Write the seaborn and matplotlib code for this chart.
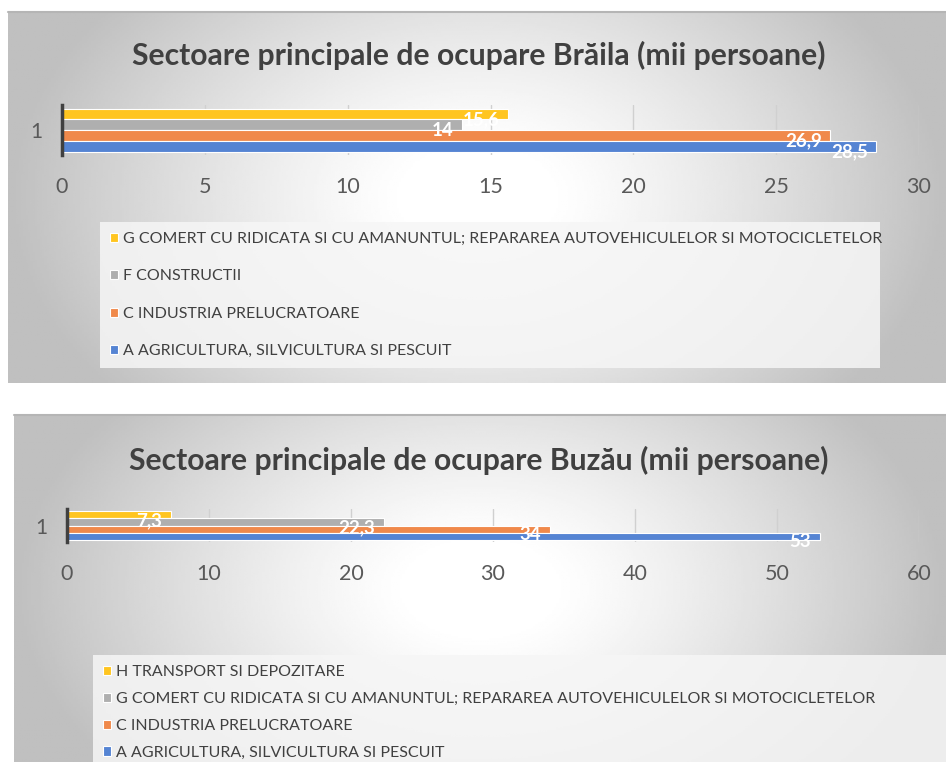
import numpy as np
import pandas as pd
import matplotlib
matplotlib.use("Agg")
import matplotlib.pyplot as plt
import seaborn as sns

# data
braila_sectors = [
    "G COMERT CU RIDICATA SI CU AMANUNTUL; REPARAREA AUTOVEHICULELOR SI MOTOCICLETELOR",
    "F CONSTRUCTII",
    "C INDUSTRIA PRELUCRATOARE",
    "A AGRICULTURA, SILVICULTURA SI PESCUIT",
]
braila_values = [15.6, 14, 26.9, 28.5]

buzau_sectors = [
    "H TRANSPORT SI DEPOZITARE",
    "G COMERT CU RIDICATA SI CU AMANUNTUL; REPARAREA AUTOVEHICULELOR SI MOTOCICLETELOR",
    "C INDUSTRIA PRELUCRATOARE",
    "A AGRICULTURA, SILVICULTURA SI PESCUIT",
]
buzau_values = [7.3, 22.3, 34, 53]

row_label = ["1"]
bar_colors = ["#FFC520", "#AFAFAF", "#F0894B", "#5584D3"]

sns.set_theme(style="white")
plt.rcParams["font.family"] = ["Lato", "DejaVu Sans"]
txt = "#404040"

W, H = 946, 762
fig = plt.figure(figsize=(W / 100, H / 100), dpi=100)

# background panels with grey-to-white gradient
bg = fig.add_axes([0, 0, 1, 1], zorder=-10)
bg.set_xlim(0, W)
bg.set_ylim(H, 0)
bg.axis("off")


def panel(x0, y0, x1, y1):
    X, Y = np.meshgrid(np.linspace(-1, 1, 400), np.linspace(-1, 1, 200))
    r = np.sqrt(X ** 2 + 0.35 * Y ** 2)
    lum = 1 - 0.25 * np.clip((r - 0.15) / 0.85, 0, 1) ** 1.2
    bg.imshow(lum, cmap="gray", vmin=0, vmax=1, extent=(x0, x1, y1, y0), aspect="auto")
    bg.plot([x0, x1], [y0, y0], color="#b5b5b5", lw=1.5)


panel(8, 12, W, 383)
panel(14, 415, W, H)


def draw(rect, sectors, values, xmax, step, title, title_y, leg_box, spacing, bpad):
    df = pd.DataFrame({"row": row_label * len(values), "sector": sectors, "value": values})
    ax = fig.add_axes(rect)
    ax.patch.set_alpha(0)
    sns.barplot(data=df, x="value", y="row", hue="sector", hue_order=sectors,
                palette=bar_colors, saturation=1, orient="h", width=0.86, ax=ax,
                edgecolor="white", linewidth=0.8)
    ax.set_xlim(0, xmax)
    ax.set_ylim(0.5, -0.5)
    ax.set_xticks(np.arange(0, xmax + 1, step))
    ax.set_xlabel("")
    ax.set_ylabel("")
    for s in ["top", "right", "bottom"]:
        ax.spines[s].set_visible(False)
    ax.spines["left"].set_color("#404040")
    ax.spines["left"].set_linewidth(2.5)
    ax.xaxis.grid(True, color="#d0d0d0", lw=1)
    ax.set_axisbelow(True)
    ax.tick_params(axis="x", length=0, pad=15.5, labelsize=15.5, labelcolor="#595959")
    ax.tick_params(axis="y", length=0, pad=14, labelsize=15, labelcolor="#595959")

    for cont, v in zip(ax.containers, values):
        for p in cont:
            ax.annotate(f"{v:g}".replace(".", ","),
                        (p.get_x() + p.get_width(), p.get_y() + p.get_height() / 2),
                        xytext=(-6, -4), textcoords="offset points",
                        ha="right", va="center", color="white", fontsize=13.5,
                        fontweight="bold")

    fig.text(0.506, 1 - title_y / H, title, ha="center", va="center",
             fontsize=21.7, fontweight="bold", color=txt)

    handles, labels = ax.get_legend_handles_labels()
    lx0, ly0, lx1, ly1 = leg_box
    leg = ax.legend(handles, labels, loc="upper left",
                    bbox_to_anchor=(lx0 / W, 1 - ly1 / H, (lx1 - lx0) / W, (ly1 - ly0) / H),
                    bbox_transform=fig.transFigure, mode="expand",
                    frameon=True, fancybox=False, facecolor="#f6f6f6",
                    edgecolor="none", framealpha=0.85, fontsize=11.5,
                    handlelength=0.5, handleheight=0.5, handletextpad=0.3,
                    labelspacing=spacing, borderpad=bpad, borderaxespad=0)
    for t in leg.get_texts():
        t.set_color(txt)
    return ax


draw([62 / W, 1 - 155 / H, (919 - 62) / W, 50 / H], braila_sectors, braila_values,
     30, 5, "Sectoare principale de ocupare Brăila (mii persoane)", 55,
     (100, 222, 880, 368), 1.47, 0.62)

draw([67 / W, 1 - 542 / H, (919 - 67) / W, 33 / H], buzau_sectors, buzau_values,
     60, 10, "Sectoare principale de ocupare Buzău (mii persoane)", 460,
     (93, 655, 946, 770), 0.8, 0.65)

fig.savefig("out.png", dpi=100)
